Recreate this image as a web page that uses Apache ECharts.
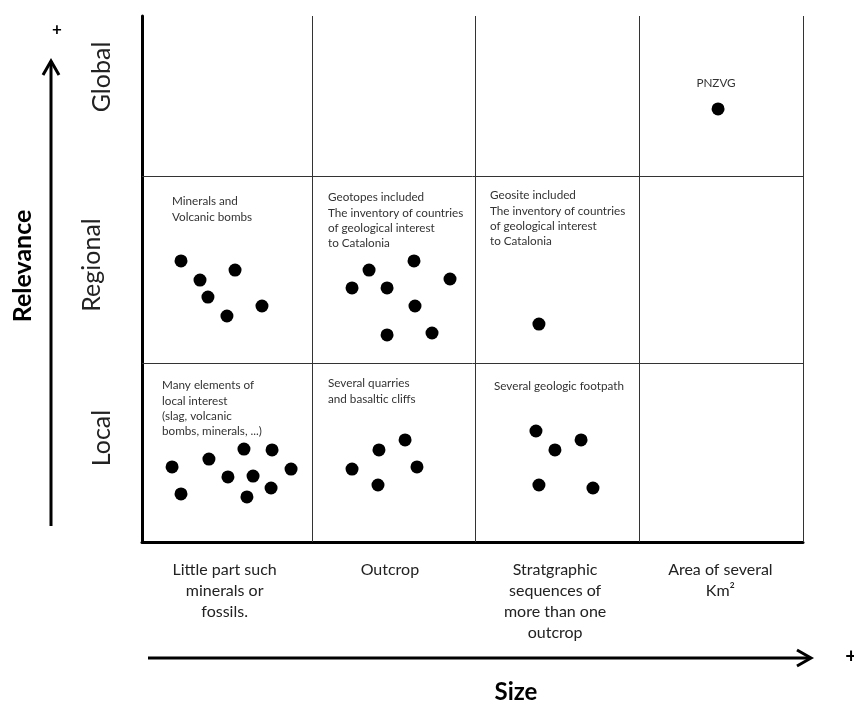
<!DOCTYPE html>
<html>
<head>
<meta charset="utf-8">
<script src="https://cdn.jsdelivr.net/npm/echarts@6/dist/echarts.min.js"></script>
<style>
html,body{margin:0;padding:0;background:#fff;}
#main{width:854px;height:705px;}
</style>
</head>
<body>
<div id="main"></div>
<script>
// ---- data ----
const sizeLabels = ['Little part such\nminerals or\nfossils.', 'Outcrop', 'Stratgraphic\nsequences of\nmore than one\noutcrop', 'Area of several\nKm\u00B2'];
const relevanceLabels = ['Local', 'Regional', 'Global'];
// column / row boundaries in axis units (x: size, y: relevance)
const colBounds = [1.03, 2.015, 3.008, 4];
const rowBounds = [1.021, 2.088];
// points [x, y]
const regionalPts = [
  [0.236,1.603],[0.351,1.494],[0.399,1.397],[0.563,1.551],[0.514,1.289],[0.726,1.346],
  [1.374,1.551],[1.271,1.449],[1.483,1.449],[1.646,1.603],[1.864,1.500],[1.652,1.346],[1.483,1.181],[1.755,1.192],
  [2.402,1.243]
];
const localPts = [
  [0.182,0.428],[0.236,0.274],[0.405,0.473],[0.617,0.530],[0.787,0.525],[0.520,0.371],[0.672,0.376],[0.902,0.416],[0.781,0.308],[0.635,0.257],
  [1.271,0.416],[1.434,0.525],[1.592,0.582],[1.664,0.428],[1.428,0.325],
  [2.384,0.633],[2.657,0.582],[2.499,0.525],[2.402,0.325],[2.729,0.308]
];
const globalPts = [[3.486,2.470]];
const cellNotes = [
  {text:'Minerals and\nVolcanic bombs', x:172, y:194},
  {text:'Geotopes included\nThe inventory of countries\nof geological interest\nto Catalonia', x:328, y:190},
  {text:'Geosite included\nThe inventory of countries\nof geological interest\nto Catalonia', x:490, y:188},
  {text:'Many elements of\nlocal interest\n(slag, volcanic\nbombs, minerals, ...)', x:162, y:378},
  {text:'Several quarries\nand basaltic cliffs', x:328, y:376},
  {text:'Several geologic footpath', x:494, y:379},
  {text:'PNZVG', x:716, y:76, align:'center'}
];

const FONT = 'Lato, "Open Sans", sans-serif';
const chart = echarts.init(document.getElementById('main'));

const boundaryLines = [];
colBounds.forEach(function(x){ boundaryLines.push([{coord:[x,0]},{coord:[x,3]}]); });
rowBounds.forEach(function(y){ boundaryLines.push([{coord:[0,y]},{coord:[4,y]}]); });

const graphics = [];
cellNotes.forEach(function(n){
  graphics.push({type:'text', x:n.x, y:n.y, silent:true, style:{text:n.text, fill:'#333', font:'11.7px ' + FONT, lineHeight:15.3, align:n.align||'left', verticalAlign:'top'}});
});
const relPos = [[102,438],[92,265],[102,77]];
relevanceLabels.forEach(function(t,i){
  graphics.push({type:'text', x:relPos[i][0], y:relPos[i][1], rotation:Math.PI/2, silent:true,
    style:{text:t, fill:'#222', font:'25px ' + FONT, align:'center', verticalAlign:'middle'}});
});
graphics.push({type:'text', x:23, y:266, rotation:Math.PI/2, style:{text:'Relevance', fill:'#000', font:'bold 25px ' + FONT, align:'center', verticalAlign:'middle'}});
graphics.push({type:'text', x:516, y:692, style:{text:'Size', fill:'#000', font:'bold 24px ' + FONT, align:'center', verticalAlign:'middle'}});
graphics.push({type:'text', x:57, y:30, style:{text:'+', fill:'#000', font:'bold 17px ' + FONT, align:'center', verticalAlign:'middle'}});
graphics.push({type:'text', x:851, y:657, style:{text:'+', fill:'#000', font:'bold 20px ' + FONT, align:'center', verticalAlign:'middle'}});
// arrows
graphics.push({type:'line', shape:{x1:51,y1:526,x2:51,y2:61}, style:{stroke:'#000', lineWidth:3}});
graphics.push({type:'polyline', shape:{points:[[43,75],[51,61],[59,75]]}, style:{stroke:'#000', lineWidth:3, fill:null}});
graphics.push({type:'line', shape:{x1:148,y1:658,x2:810,y2:658}, style:{stroke:'#000', lineWidth:3}});
graphics.push({type:'polyline', shape:{points:[[797,650],[811,658],[797,666]]}, style:{stroke:'#000', lineWidth:3, fill:null}});

const dotStyle = {color:'#000', opacity:1};
chart.setOption({
  animation:false,
  backgroundColor:'#fff',
  grid:{left:142, right:51, top:16, bottom:163, containLabel:false},
  xAxis:[
    {type:'value', min:0, max:4, axisLine:{show:true, onZero:false, lineStyle:{color:'#000', width:3}}, axisTick:{show:false}, axisLabel:{show:false}, splitLine:{show:false}},
    {type:'category', data:sizeLabels, position:'bottom', axisLine:{show:false}, axisTick:{show:false},
     axisLabel:{margin:17, fontSize:16, lineHeight:21, color:'#222', fontFamily:FONT, verticalAlign:'top'}, splitLine:{show:false}}
  ],
  yAxis:{type:'value', min:0, max:3, axisLine:{show:true, onZero:false, lineStyle:{color:'#000', width:3}}, axisTick:{show:false}, axisLabel:{show:false}, splitLine:{show:false}},
  graphic:graphics,
  series:[
    {type:'scatter', name:'Local', data:localPts, symbolSize:13, itemStyle:dotStyle, z:5,
     markLine:{silent:true, symbol:['none','none'], label:{show:false}, lineStyle:{color:'#333', width:1, type:'solid'}, data:boundaryLines}},
    {type:'scatter', name:'Regional', data:regionalPts, symbolSize:13, itemStyle:dotStyle, z:5},
    {type:'scatter', name:'Global', data:globalPts, symbolSize:13, itemStyle:dotStyle, z:5}
  ]
});
</script>
</body>
</html>
